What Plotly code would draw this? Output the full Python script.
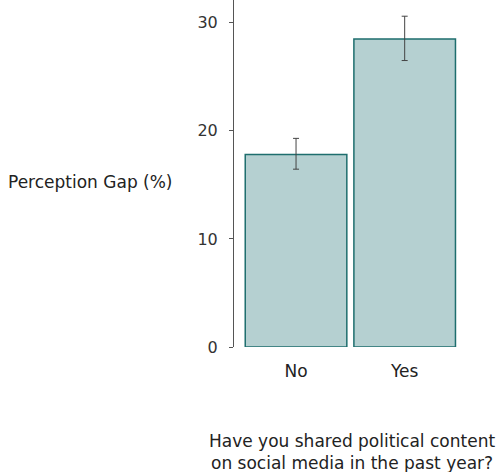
import plotly.graph_objects as go

categories = ["No", "Yes"]
values = [17.8, 28.5]
err_upper = [19.3, 30.6]
err_lower = [16.45, 26.5]
y_ticks = [0, 10, 20, 30]
y_title = "Perception Gap (%)"
x_title_lines = ["Have you shared political content", "on social media in the past year?"]

W, H = 498, 472
left, right, top, bottom = 234, 39.25, 0, 125.3
plot_w = W - left - right
plot_h = H - top - bottom


def px_x(px):
    return (px - left) / plot_w


def px_y(py):
    return (H - bottom - py) / plot_h


fig = go.Figure()
fig.add_trace(go.Bar(
    x=categories, y=values, width=0.935,
    marker=dict(color="#b5d0d1", line=dict(color="#1e6e6e", width=1.5)),
    error_y=dict(type="data", symmetric=False,
                 array=[u - v for u, v in zip(err_upper, values)],
                 arrayminus=[v - l for v, l in zip(values, err_lower)],
                 color="#444444", thickness=1, width=3),
    showlegend=False,
))

font = "DejaVu Sans"
txt = "#222222"
annotations = [
    dict(text=y_title, xref="paper", yref="paper",
         x=px_x(6), y=px_y(182), xanchor="left", yanchor="middle",
         showarrow=False, font=dict(size=17, color=txt)),
    dict(text="<br>".join(x_title_lines), xref="paper", yref="paper",
         x=px_x(351.5), y=px_y(429), xanchor="center", yanchor="top",
         showarrow=False, font=dict(size=17, color=txt)),
]

fig.update_layout(
    width=W, height=H,
    margin=dict(l=left, r=right, t=top, b=bottom, pad=0),
    plot_bgcolor="white", paper_bgcolor="white",
    font=dict(family=font, size=17, color=txt),
    xaxis=dict(range=[-0.571, 1.5], showline=False, ticks="", showgrid=False,
               zeroline=False, tickfont=dict(size=17, color=txt),
               ticklabelstandoff=12),
    yaxis=dict(range=[0, 32.1], tickvals=y_ticks, showline=True, linecolor="#555555",
               linewidth=1, ticks="outside", ticklen=4, tickcolor="#555555",
               showgrid=False, zeroline=False, tickfont=dict(size=16, color="#333333"),
               ticklabelstandoff=8),
    annotations=annotations,
)

fig.write_html("out.html")
